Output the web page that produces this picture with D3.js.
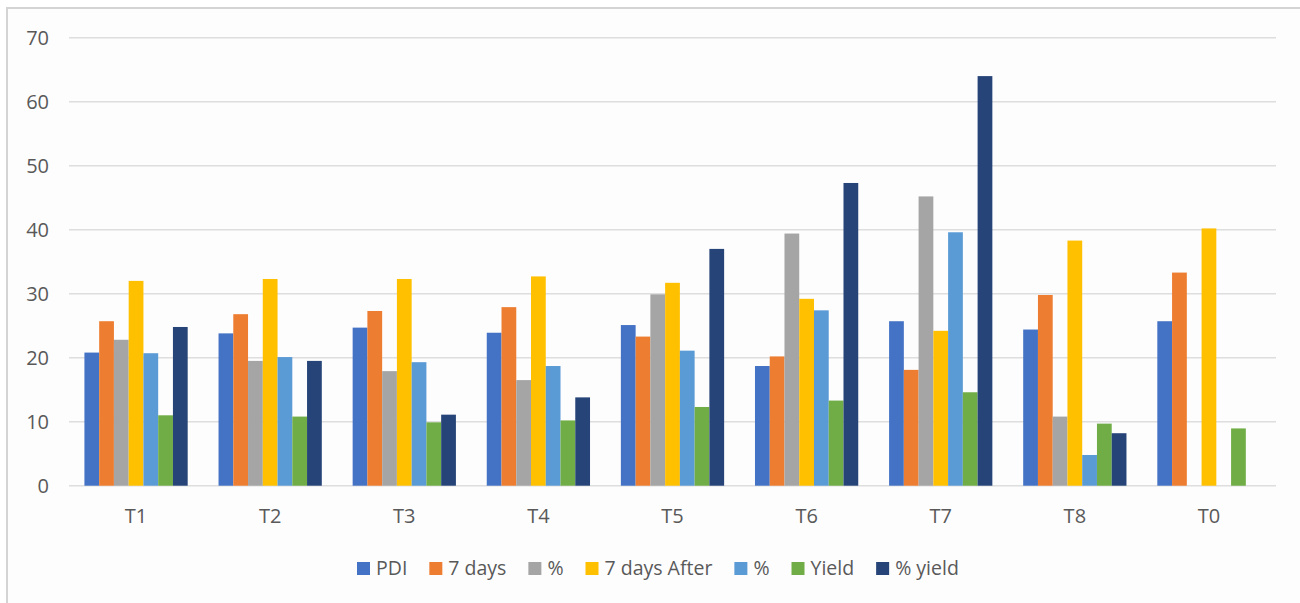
<!DOCTYPE html>
<html>
<head>
<meta charset="utf-8">
<script src="https://cdn.jsdelivr.net/npm/d3@7"></script>
<style>
  html, body { margin: 0; padding: 0; background: #ffffff; }
  svg { display: block; }
  text { font-family: "Open Sans", "Noto Sans", sans-serif; fill: #595959; }
</style>
</head>
<body>
<svg id="chart" width="1300" height="603"></svg>
<script>
// ---- Data ----
const categories = ["T1", "T2", "T3", "T4", "T5", "T6", "T7", "T8", "T0"];
const seriesNames = ["PDI", "7 days", "%", "7 days After", "%", "Yield", "% yield"];
const pdi        = [20.8, 23.8, 24.7, 23.9, 25.1, 18.7, 25.7, 24.4, 25.7];
const days7      = [25.7, 26.8, 27.3, 27.9, 23.3, 20.2, 18.1, 29.8, 33.3];
const pct1       = [22.8, 19.5, 17.9, 16.5, 29.9, 39.4, 45.2, 10.8, null];
const days7After = [32.0, 32.3, 32.3, 32.7, 31.7, 29.2, 24.2, 38.3, 40.2];
const pct2       = [20.7, 20.1, 19.3, 18.7, 21.1, 27.4, 39.6, 4.8, null];
const yieldVals  = [11.0, 10.8, 9.9, 10.2, 12.3, 13.3, 14.6, 9.7, 8.95];
const pctYield   = [24.8, 19.5, 11.1, 13.8, 37.0, 47.3, 64.0, 8.2, null];
const yTicks     = [0, 10, 20, 30, 40, 50, 60, 70];

const seriesValues = [pdi, days7, pct1, days7After, pct2, yieldVals, pctYield];
const colors = ["#4472C4", "#ED7D31", "#A5A5A5", "#FFC000", "#5B9BD5", "#70AD47", "#264478"];

// ---- Layout ----
const svg = d3.select("#chart");
const W = 1300, H = 603;
const plot = { left: 69, right: 1276, top: 37.7, bottom: 485.7 };

// Background + frame
svg.append("rect").attr("x", 0).attr("y", 0).attr("width", W).attr("height", H).attr("fill", "#ffffff");
svg.append("rect").attr("x", 7).attr("y", 8).attr("width", W - 7).attr("height", H - 8).attr("fill", "#fdfdfd");
svg.append("line").attr("x1", 7).attr("x2", 7).attr("y1", 7).attr("y2", H)
  .attr("stroke", "#d4d4d4").attr("stroke-width", 2);
svg.append("line").attr("x1", 6).attr("x2", W).attr("y1", 8).attr("y2", 8)
  .attr("stroke", "#d4d4d4").attr("stroke-width", 2);

const x0 = d3.scaleBand().domain(categories).range([plot.left, plot.right])
  .paddingInner(0.23).paddingOuter(0.115);
const x1 = d3.scaleBand().domain(d3.range(seriesNames.length)).range([0, x0.bandwidth()]).padding(0);
const y = d3.scaleLinear().domain([0, 70]).range([plot.bottom, plot.top]);

// Gridlines
svg.append("g").selectAll("line").data(yTicks).join("line")
  .attr("x1", plot.left).attr("x2", plot.right)
  .attr("y1", d => y(d)).attr("y2", d => y(d))
  .attr("stroke", "#dedede").attr("stroke-width", 1.6);

// Y axis labels
const yAxis = d3.axisLeft(y).tickValues(yTicks).tickSize(0).tickPadding(0);
const yg = svg.append("g").attr("transform", `translate(49,0)`).call(yAxis);
yg.select(".domain").remove();
yg.selectAll("text").attr("font-size", 20).attr("fill", "#595959")
  .style("font-family", '"Open Sans", "Noto Sans", sans-serif').attr("dy", "0.34em");

// Bars
const groups = svg.append("g").selectAll("g").data(categories).join("g")
  .attr("transform", d => `translate(${x0(d)},0)`);
groups.selectAll("rect")
  .data((c, ci) => seriesValues.map((vals, si) => ({ si, v: vals[ci] })).filter(d => d.v != null))
  .join("rect")
  .attr("x", d => x1(d.si))
  .attr("width", x1.bandwidth())
  .attr("y", d => y(d.v))
  .attr("height", d => y(0) - y(d.v))
  .attr("fill", d => colors[d.si]);

// X axis labels
const xAxis = d3.axisBottom(x0).tickSize(0).tickPadding(0);
const xg = svg.append("g").attr("transform", `translate(0,${plot.bottom})`).call(xAxis);
xg.select(".domain").remove();
xg.selectAll("text").attr("font-size", 20).attr("fill", "#595959")
  .style("font-family", '"Open Sans", "Noto Sans", sans-serif')
  .attr("y", 37).attr("dy", 0);

// Legend
const legend = svg.append("g");
let lx = 357;
seriesNames.forEach((name, i) => {
  legend.append("rect").attr("x", lx).attr("y", 562).attr("width", 13).attr("height", 13)
    .attr("fill", colors[i]);
  const t = legend.append("text").attr("x", lx + 19).attr("y", 575)
    .attr("font-size", 19.5).text(name);
  lx += 19 + t.node().getComputedTextLength() + 22;
});
</script>
</body>
</html>
